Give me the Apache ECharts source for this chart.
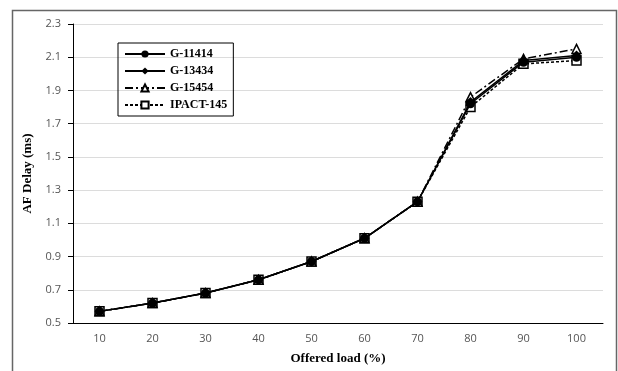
<!DOCTYPE html>
<html>
<head>
<meta charset="utf-8">
<script src="https://cdn.jsdelivr.net/npm/echarts@6/dist/echarts.min.js"></script>
<style>
  html, body { margin: 0; padding: 0; background: #fff; }
  #chart { width: 618px; height: 371px; }
</style>
</head>
<body>
<div id="chart"></div>
<script>
// offered load categories
var loads = ['10', '20', '30', '40', '50', '60', '70', '80', '90', '100'];
// AF delay values (ms)
var g11414 = [0.57, 0.62, 0.68, 0.76, 0.87, 1.01, 1.23, 1.82, 2.07, 2.10];
var g13434 = [0.57, 0.62, 0.68, 0.76, 0.87, 1.01, 1.23, 1.83, 2.08, 2.11];
var g15454 = [0.57, 0.62, 0.68, 0.76, 0.87, 1.01, 1.23, 1.86, 2.09, 2.15];
var ipact145 = [0.57, 0.62, 0.68, 0.76, 0.87, 1.01, 1.23, 1.80, 2.06, 2.08];
var yTicks = [0.5, 0.7, 0.9, 1.1, 1.3, 1.5, 1.7, 1.9, 2.1, 2.3];

var chart = echarts.init(document.getElementById('chart'));

var serifBold = {
    fontFamily: 'Liberation Serif, serif',
    fontWeight: 'bold',
    color: '#000'
};

function makeSeries(name, data, symbol, lineType, filled, z) {
    return {
        name: name,
        type: 'line',
        z: z,
        data: data,
        symbol: symbol,
        symbolSize: symbol === 'diamond' ? 10 : 9,
        showAllSymbol: true,
        lineStyle: { color: '#000', width: 1.5, type: lineType },
        itemStyle: {
            color: filled ? '#000' : '#fff',
            borderColor: '#000',
            borderWidth: filled ? 0 : 1.5
        }
    };
}

chart.setOption({
    animation: false,
    graphic: [{
        type: 'rect',
        shape: { x: 12.5, y: 10.5, width: 604, height: 400 },
        style: { fill: 'none', stroke: '#666', lineWidth: 1.5 },
        silent: true
    }],
    legend: {
        orient: 'vertical',
        left: 118,
        top: 43,
        itemWidth: 40,
        itemHeight: 9,
        itemGap: 5,
        padding: [5, 6, 5, 6],
        borderColor: '#000',
        borderWidth: 1,
        textStyle: { fontFamily: 'Liberation Serif, serif', fontWeight: 'bold', fontSize: 12, color: '#000' },
        data: ['G-11414', 'G-13434', 'G-15454', 'IPACT-145']
    },
    grid: {
        left: 73,
        right: 15,
        top: 24,
        bottom: 48
    },
    xAxis: {
        type: 'category',
        data: loads,
        name: 'Offered load (%)',
        nameLocation: 'middle',
        nameGap: 29,
        nameTextStyle: Object.assign({ fontSize: 13 }, serifBold),
        axisLine: { lineStyle: { color: '#000', width: 1 } },
        axisTick: { show: false },
        axisLabel: { fontFamily: 'Open Sans, sans-serif', fontSize: 11, color: '#555', margin: 10 }
    },
    yAxis: {
        type: 'value',
        min: yTicks[0],
        max: yTicks[yTicks.length - 1],
        interval: 0.2,
        name: 'AF Delay (ms)',
        nameLocation: 'middle',
        nameGap: 35,
        nameTextStyle: Object.assign({ fontSize: 13 }, serifBold),
        axisLine: { show: true, lineStyle: { color: '#000', width: 1 } },
        axisTick: { show: true, inside: false, length: 5, lineStyle: { color: '#000' } },
        axisLabel: {
            fontFamily: 'Open Sans, sans-serif', fontSize: 11, color: '#555', margin: 12,
            formatter: function (v) { return v.toFixed(1); }
        },
        splitLine: { lineStyle: { color: '#dcdcdc', width: 1 } }
    },
    series: [
        makeSeries('G-11414', g11414, 'circle', 'solid', true, 5),
        makeSeries('G-13434', g13434, 'diamond', 'solid', true, 6),
        makeSeries('G-15454', g15454, 'triangle', [8, 3, 2, 3], false, 3),
        makeSeries('IPACT-145', ipact145, 'rect', [3, 2], false, 2)
    ]
});
</script>
</body>
</html>
